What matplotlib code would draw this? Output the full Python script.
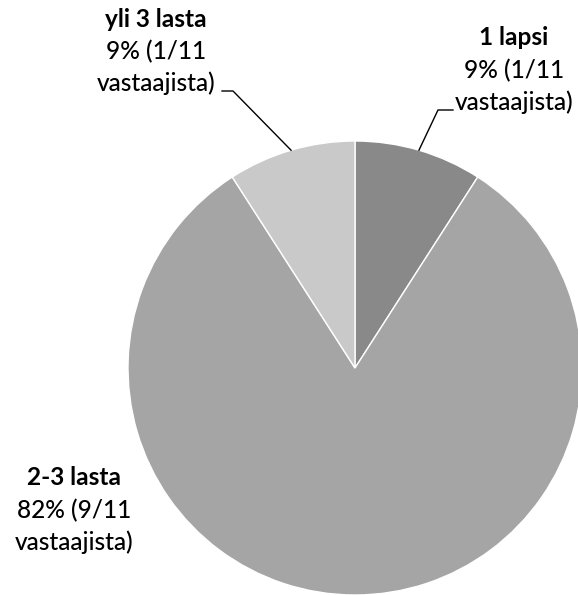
import numpy as np
import matplotlib
matplotlib.use('Agg')
import matplotlib.pyplot as plt

plt.rcParams['font.family'] = ['Lato', 'DejaVu Sans']

# data
labels = ['1 lapsi', '2-3 lasta', 'yli 3 lasta']
counts = [1, 9, 1]
colors = ['#898989', '#a5a5a5', '#c9c9c9']
total = sum(counts)

W, H = 578, 595
fig = plt.figure(figsize=(W / 100, H / 100), dpi=100)

# pie centre / radius in pixels
cx, cy, r = 355, 368, 227
ax = fig.add_axes([(cx - r) / W, (H - cy - r) / H, 2 * r / W, 2 * r / H])
wedges, _ = ax.pie(counts, colors=colors, startangle=90, counterclock=False,
                   radius=1, wedgeprops=dict(edgecolor='white', linewidth=1))
ax.set_xlim(-1, 1)
ax.set_ylim(-1, 1)
ax.set_aspect('equal')
ax.axis('off')

# label positions (pixel centre x, baselines of 3 lines)
label_pos = {
    '1 lapsi': (514, [45, 78, 110]),
    '2-3 lasta': (74, [485, 518, 550]),
    'yli 3 lasta': (156, [27, 59, 91]),
}
fs = 17.6
for lab, n in zip(labels, counts):
    x, ys = label_pos[lab]
    pct = round(100 * n / total)
    lines = [lab, f'{pct}% ({n}/{total}', 'vastaajista)']
    for i, (txt, yy) in enumerate(zip(lines, ys)):
        fig.text(x / W, 1 - yy / H, txt, ha='center', va='baseline',
                 fontsize=fs, fontweight='bold' if i == 0 else 'medium',
                 color='black')

# leader lines: from pie edge at wedge mid-angle to elbow near the text
def to_data(px, py):
    return (px - cx) / r, (cy - py) / r

leaders = {
    '1 lapsi': [(438, 110), (453, 110)],
    'yli 3 lasta': [(233, 91), (222, 91)],
}
for w, lab in zip(wedges, labels):
    if lab not in leaders:
        continue
    ang = np.deg2rad((w.theta1 + w.theta2) / 2)
    pts = [(np.cos(ang), np.sin(ang))] + [to_data(*p) for p in leaders[lab]]
    xs, ys = zip(*pts)
    ax.plot(xs, ys, color='black', lw=1, clip_on=False)

fig.savefig('out.png', dpi=100)
